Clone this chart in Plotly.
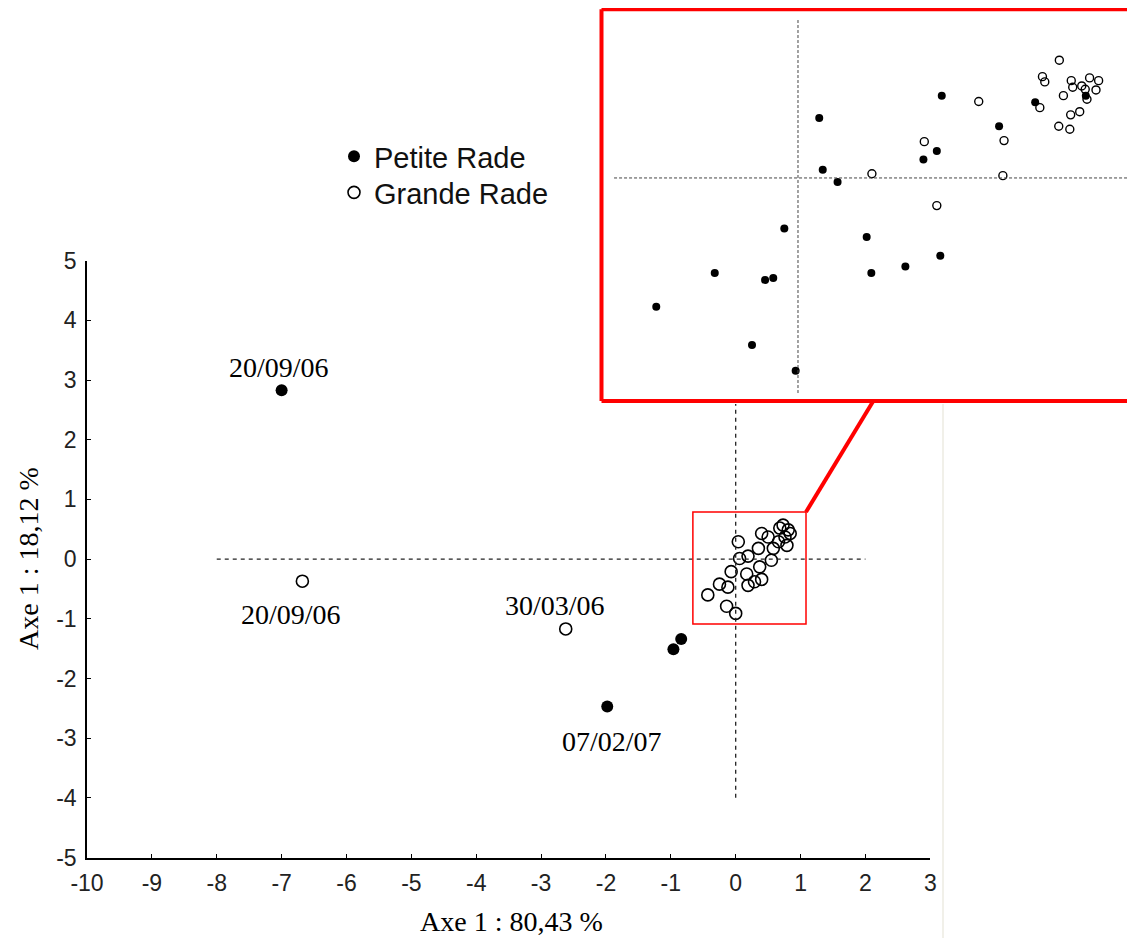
import plotly.graph_objects as go

# page body has an 8px margin: figure is sized so that it fits the 1135x938 window
OFF = 8
W, H = 1135 - OFF, 938 - OFF

# ---------------- Main chart data ----------------
petite_x = [-7.00, -0.84, -0.96, -1.98]
petite_y = [2.83, -1.34, -1.51, -2.47]

grande_x = [-6.68, -2.62, 0.04, -0.43, -0.14, 0.00, -0.07, -0.25, -0.12, 0.06, 0.19,
            0.17, 0.19, 0.29, 0.40, 0.37, 0.35, 0.40, 0.50, 0.55, 0.58, 0.66, 0.68,
            0.73, 0.81, 0.79, 0.76, 0.84]
grande_y = [-0.37, -1.17, 0.29, -0.60, -0.79, -0.91, -0.21, -0.42, -0.47, 0.01, 0.05,
            -0.25, -0.44, -0.38, -0.34, -0.13, 0.18, 0.43, 0.37, -0.02, 0.18, 0.29, 0.52,
            0.57, 0.49, 0.23, 0.37, 0.43]

label_text = ["20/09/06", "20/09/06", "30/03/06", "07/02/07"]
label_x = [-7.00, -6.68, -2.62, -1.98]
label_y = [2.83, -0.37, -1.17, -2.47]

x_ticks = list(range(-10, 4))
x_ticktext = [str(v) for v in x_ticks]
y_ticks = list(range(-5, 6))
y_ticktext = [str(v) for v in y_ticks]

# Zoom window drawn on the main chart
zoom_x = [-0.66, 1.084]
zoom_y = [-1.087, 0.789]

# ---------------- Inset (zoomed) data ----------------
inset_petite_x = [0.494, 0.073, 0.085, 0.136, 0.691, 0.477, 0.431, 0.815, 0.989, -0.047,
                  0.236, 0.489, 0.369, 0.252, -0.286, -0.085, -0.113, -0.487, -0.158, -0.008]
inset_petite_y = [0.390, 0.284, 0.039, -0.019, 0.245, 0.128, 0.088, 0.359, 0.389, -0.240,
                  -0.280, -0.368, -0.420, -0.450, -0.450, -0.474, -0.483, -0.610, -0.791, -0.913]
inset_grande_x = [0.898, 0.840, 0.848, 1.002, 1.033, 0.939, 0.944, 0.975, 0.987, 1.024,
                  0.912, 0.993, 0.621, 0.831, 0.937, 0.968, 0.896, 0.934, 0.434, 0.708,
                  0.254, 0.704, 0.477]
inset_grande_y = [0.558, 0.480, 0.455, 0.474, 0.461, 0.461, 0.430, 0.436, 0.420, 0.417,
                  0.390, 0.373, 0.362, 0.333, 0.299, 0.314, 0.245, 0.231, 0.172, 0.177,
                  0.020, 0.011, -0.131]


def px(x):
    return (x - OFF) / W


def py(y):
    return 1 - (y - OFF) / H


fig = go.Figure()

# main traces
fig.add_trace(go.Scatter(
    x=petite_x, y=petite_y, mode="markers", name="Petite Rade",
    marker=dict(symbol="circle", size=12, color="black"),
    xaxis="x", yaxis="y", cliponaxis=False, legend="legend"))
fig.add_trace(go.Scatter(
    x=grande_x, y=grande_y, mode="markers", name="Grande Rade",
    marker=dict(symbol="circle-open", size=12, color="black", line=dict(width=1.6)),
    xaxis="x", yaxis="y", cliponaxis=False, legend="legend2"))

# inset traces
fig.add_trace(go.Scatter(
    x=inset_petite_x, y=inset_petite_y, mode="markers", showlegend=False,
    marker=dict(symbol="circle", size=8, color="black"),
    xaxis="x2", yaxis="y2"))
fig.add_trace(go.Scatter(
    x=inset_grande_x, y=inset_grande_y, mode="markers", showlegend=False,
    marker=dict(symbol="circle-open", size=8, color="black", line=dict(width=1.4)),
    xaxis="x2", yaxis="y2"))

tickfont = dict(family="Liberation Sans", size=23, color="#222")
legfont = dict(family="Liberation Sans", size=29, color="#111")

fig.update_layout(
    width=W, height=H, autosize=False,
    margin=dict(l=0, r=0, t=0, b=0),
    paper_bgcolor="white", plot_bgcolor="white",
    xaxis=dict(domain=[px(87), px(930.3)], range=[-10, 3], tickvals=x_ticks,
               ticktext=x_ticktext,
               ticks="inside", ticklen=4, tickcolor="black", tickwidth=1.2,
               showline=True, linecolor="black", linewidth=1.5,
               showgrid=False, zeroline=False, tickfont=tickfont,
               ticklabelstandoff=4, anchor="y", automargin=False),
    yaxis=dict(domain=[py(857.5), py(260.7)], range=[-5, 5], tickvals=y_ticks,
               ticktext=y_ticktext,
               ticks="inside", ticklen=4, tickcolor="black", tickwidth=1.2,
               showline=True, linecolor="black", linewidth=1.5,
               showgrid=False, zeroline=False, tickfont=tickfont,
               ticklabelstandoff=4, anchor="x", automargin=False),
    xaxis2=dict(domain=[px(603), 1.0], range=[-0.67, 1.158], visible=False,
                showgrid=False, zeroline=False, anchor="y2"),
    yaxis2=dict(domain=[py(400), py(11)], range=[-1.052, 0.791], visible=False,
                showgrid=False, zeroline=False, anchor="x2"),
    legend=dict(x=px(334), y=py(131), xanchor="left", yanchor="top", font=legfont,
                bgcolor="rgba(0,0,0,0)", itemsizing="trace"),
    legend2=dict(x=px(334), y=py(167), xanchor="left", yanchor="top", font=legfont,
                 bgcolor="rgba(0,0,0,0)", itemsizing="trace"),
    showlegend=True,
)

shapes = []
# main dashed cross
shapes.append(dict(type="line", xref="x", yref="y", x0=-8, x1=2, y0=0, y1=0,
                   line=dict(color="#222", width=1.3, dash="4px,4px")))
shapes.append(dict(type="line", xref="x", yref="y", x0=0, x1=0, y0=-4, y1=2.6,
                   line=dict(color="#222", width=1.3, dash="4px,4px")))
# zoom rectangle
shapes.append(dict(type="rect", xref="x", yref="y", x0=zoom_x[0], x1=zoom_x[1],
                   y0=zoom_y[0], y1=zoom_y[1], line=dict(color="red", width=1.5)))
# inset dashed cross
shapes.append(dict(type="line", xref="x2", yref="y2", x0=0, x1=0, y0=-1.019, y1=0.754,
                   line=dict(color="#444", width=1, dash="3px,2px")))
shapes.append(dict(type="line", xref="x2", yref="y2", x0=-0.632, x1=1.158, y0=0, y1=0,
                   line=dict(color="#444", width=1, dash="3px,2px")))
# connector from zoom rectangle to inset
shapes.append(dict(type="line", xref="paper", yref="paper", x0=px(806), y0=py(512),
                   x1=px(872.7), y1=py(402), line=dict(color="red", width=4)))
# inset border: three separate sides (the inset runs past the picture's right edge)
bx0, bx1 = px(601.5), 1.0
by0, by1 = py(401), py(9.3)
for (x0, y0, x1, y1) in [(bx0, by1, bx1, by1), (bx0, by0, bx1, by0), (bx0, by0, bx0, by1)]:
    shapes.append(dict(type="line", xref="paper", yref="paper", x0=x0, y0=y0, x1=x1, y1=y1,
                       line=dict(color="red", width=4), layer="above"))
# faint vertical line at right
shapes.append(dict(type="line", xref="paper", yref="paper", x0=px(943), x1=px(943),
                   y0=py(404), y1=0, line=dict(color="#ecebe2", width=1.5)))
fig.update_layout(shapes=shapes)

# point labels
shifts = [(-3, 23), (-11, -33), (-11, 23), (5, -35)]
annotations = []
for t, x, y, (dx, dy) in zip(label_text, label_x, label_y, shifts):
    annotations.append(dict(text=t, x=x, y=y, xref="x", yref="y", showarrow=False,
                            xshift=dx, yshift=dy, xanchor="center", yanchor="middle",
                            font=dict(family="Liberation Serif", size=28, color="black")))
# axis titles
annotations.append(dict(text="Axe 1 : 80,43 %", x=px(511), y=py(921), xref="paper",
                        yref="paper", showarrow=False, xanchor="center", yanchor="middle",
                        font=dict(family="Liberation Serif", size=28, color="black")))
annotations.append(dict(text="Axe 1 : 18,12 %", x=px(28), y=py(559), xref="paper",
                        yref="paper", showarrow=False, textangle=-90,
                        xanchor="center", yanchor="middle",
                        font=dict(family="Liberation Serif", size=28, color="black")))
fig.update_layout(annotations=annotations)

fig.write_html("out.html")
